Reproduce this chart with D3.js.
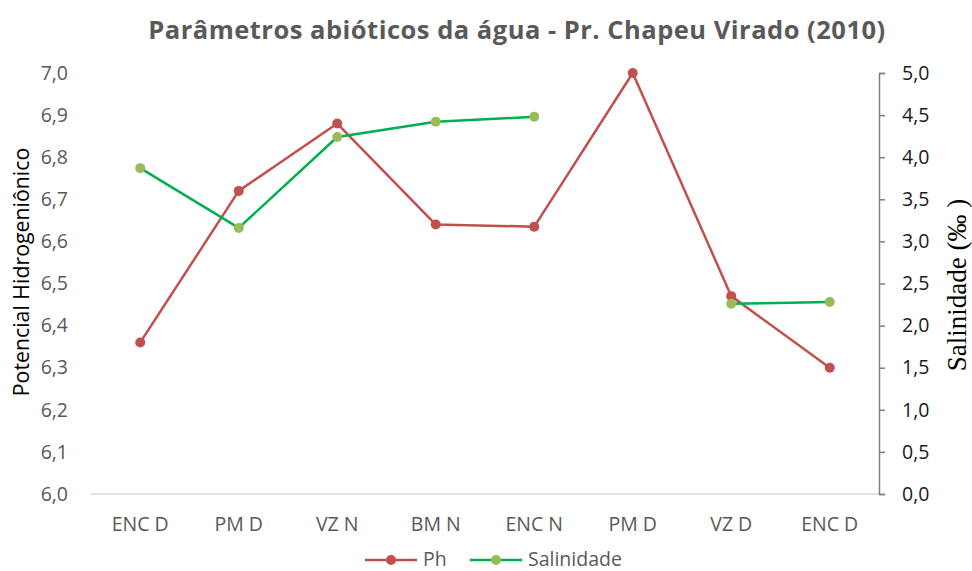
<!DOCTYPE html>
<html>
<head>
<meta charset="utf-8">
<script src="https://cdn.jsdelivr.net/npm/d3@7"></script>
<style>
  body { margin: 0; background: #fff; }
  svg { display: block; font-family: "Open Sans", sans-serif; }
</style>
</head>
<body>
<div id="chart"></div>
<script>
// data
var categories = ['ENC D', 'PM D', 'VZ N', 'BM N', 'ENC N', 'PM D', 'VZ D', 'ENC D'];
var ph_values = [6.36, 6.72, 6.88, 6.64, 6.635, 7.0, 6.47, 6.30];
var salinity_values = [3.87, 3.16, 4.24, 4.42, 4.48, null, 2.26, 2.28];
var left_ticks = [6.0, 6.1, 6.2, 6.3, 6.4, 6.5, 6.6, 6.7, 6.8, 6.9, 7.0];
var right_ticks = [0, 0.5, 1, 1.5, 2, 2.5, 3, 3.5, 4, 4.5, 5];

var W = 972, H = 571;
var margin = {top: 73, right: 93, bottom: 77, left: 91};
var w = W - margin.left - margin.right;
var h = H - margin.top - margin.bottom;

var ph_color = '#C0504D';
var sal_line = '#00B050';
var sal_marker = '#9BBB59';
var fmt = d3.format('.1f');
var comma = v => fmt(v).replace('.', ',');
var tick_font = '19.5px';

var svg = d3.select('#chart').append('svg').attr('width', W).attr('height', H);
var g = svg.append('g').attr('transform', `translate(${margin.left},${margin.top})`);

var x = d3.scaleBand().domain(d3.range(categories.length)).range([0, w]);
var cx = i => x(i) + x.bandwidth() / 2;
var yl = d3.scaleLinear().domain([6, 7]).range([h, 0]);
var yr = d3.scaleLinear().domain([0, 5]).range([h, 0]);

// baseline
g.append('line').attr('x1', 0).attr('x2', w).attr('y1', h).attr('y2', h)
  .attr('stroke', '#d9d9d9').attr('stroke-width', 1.3);

// left axis (labels only)
var left = g.append('g').call(d3.axisLeft(yl).tickValues(left_ticks).tickFormat(comma).tickSize(0).tickPadding(23));
left.select('.domain').remove();
left.selectAll('text').attr('fill', '#595959').style('font-size', tick_font).style('font-family', '"Open Sans", sans-serif');

// right axis
var right = g.append('g').attr('transform', `translate(${w},0)`)
  .call(d3.axisRight(yr).tickValues(right_ticks).tickFormat(comma).tickSize(6).tickSizeOuter(6).tickPadding(17));
right.select('.domain').attr('stroke', '#7f7f7f').attr('stroke-width', 1.5);
right.selectAll('.tick line').attr('stroke', '#7f7f7f').attr('stroke-width', 1.5);
right.selectAll('text').attr('fill', '#1a1a1a').style('font-size', tick_font).style('font-family', '"Open Sans", sans-serif');

// x labels
var xa = g.append('g').attr('transform', `translate(0,${h})`)
  .call(d3.axisBottom(x).tickFormat(i => categories[i]).tickSize(0).tickPadding(23));
xa.select('.domain').remove();
xa.selectAll('text').attr('fill', '#595959').style('font-size', tick_font).style('font-family', '"Open Sans", sans-serif');

// lines
var ph_line = d3.line().x((d, i) => cx(i)).y(d => yl(d));
g.append('path').datum(ph_values).attr('d', ph_line)
  .attr('fill', 'none').attr('stroke', ph_color).attr('stroke-width', 2.5).attr('stroke-linejoin', 'round');
var sal = d3.line().defined(d => d != null).x((d, i) => cx(i)).y(d => yr(d));
g.append('path').datum(salinity_values).attr('d', sal)
  .attr('fill', 'none').attr('stroke', sal_line).attr('stroke-width', 2.5).attr('stroke-linejoin', 'round');

g.selectAll('.ph-dot').data(ph_values).enter().append('circle')
  .attr('class', 'ph-dot').attr('cx', (d, i) => cx(i)).attr('cy', d => yl(d)).attr('r', 5).attr('fill', ph_color);
g.selectAll('.sal-dot').data(salinity_values.map((v, i) => [v, i]).filter(d => d[0] != null)).enter().append('circle')
  .attr('class', 'sal-dot').attr('cx', d => cx(d[1])).attr('cy', d => yr(d[0])).attr('r', 5).attr('fill', sal_marker);

// title
svg.append('text').attr('x', 517).attr('y', 39).attr('text-anchor', 'middle')
  .attr('fill', '#595959').style('font-size', '25.5px').style('font-weight', 'bold').style('letter-spacing', '0.5px')
  .text('Parâmetros abióticos da água - Pr. Chapeu Virado (2010)');

// axis titles
svg.append('text').attr('transform', 'translate(29,272) rotate(-90)').attr('text-anchor', 'middle')
  .attr('fill', '#000').style('font-size', '21.3px')
  .text('Potencial Hidrogeniônico');
svg.append('text').attr('transform', 'translate(966,285) rotate(-90)').attr('text-anchor', 'middle')
  .attr('fill', '#000').style('font-size', '27px').style('font-family', '"Liberation Serif", serif')
  .text('Salinidade (‰ )');

// legend
var legend = svg.append('g').attr('transform', 'translate(0,560)');
var items = [{name: 'Ph', line: ph_color, dot: ph_color, x: 365}, {name: 'Salinidade', line: sal_line, dot: sal_marker, x: 470}];
items.forEach(it => {
  legend.append('line').attr('x1', it.x).attr('x2', it.x + 52).attr('y1', 0).attr('y2', 0)
    .attr('stroke', it.line).attr('stroke-width', 2.5);
  legend.append('circle').attr('cx', it.x + 26).attr('cy', 0).attr('r', 5).attr('fill', it.dot);
  legend.append('text').attr('x', it.x + 58).attr('y', 5.5)
    .attr('fill', '#595959').style('font-size', '19.5px').text(it.name);
});
</script>
</body>
</html>
